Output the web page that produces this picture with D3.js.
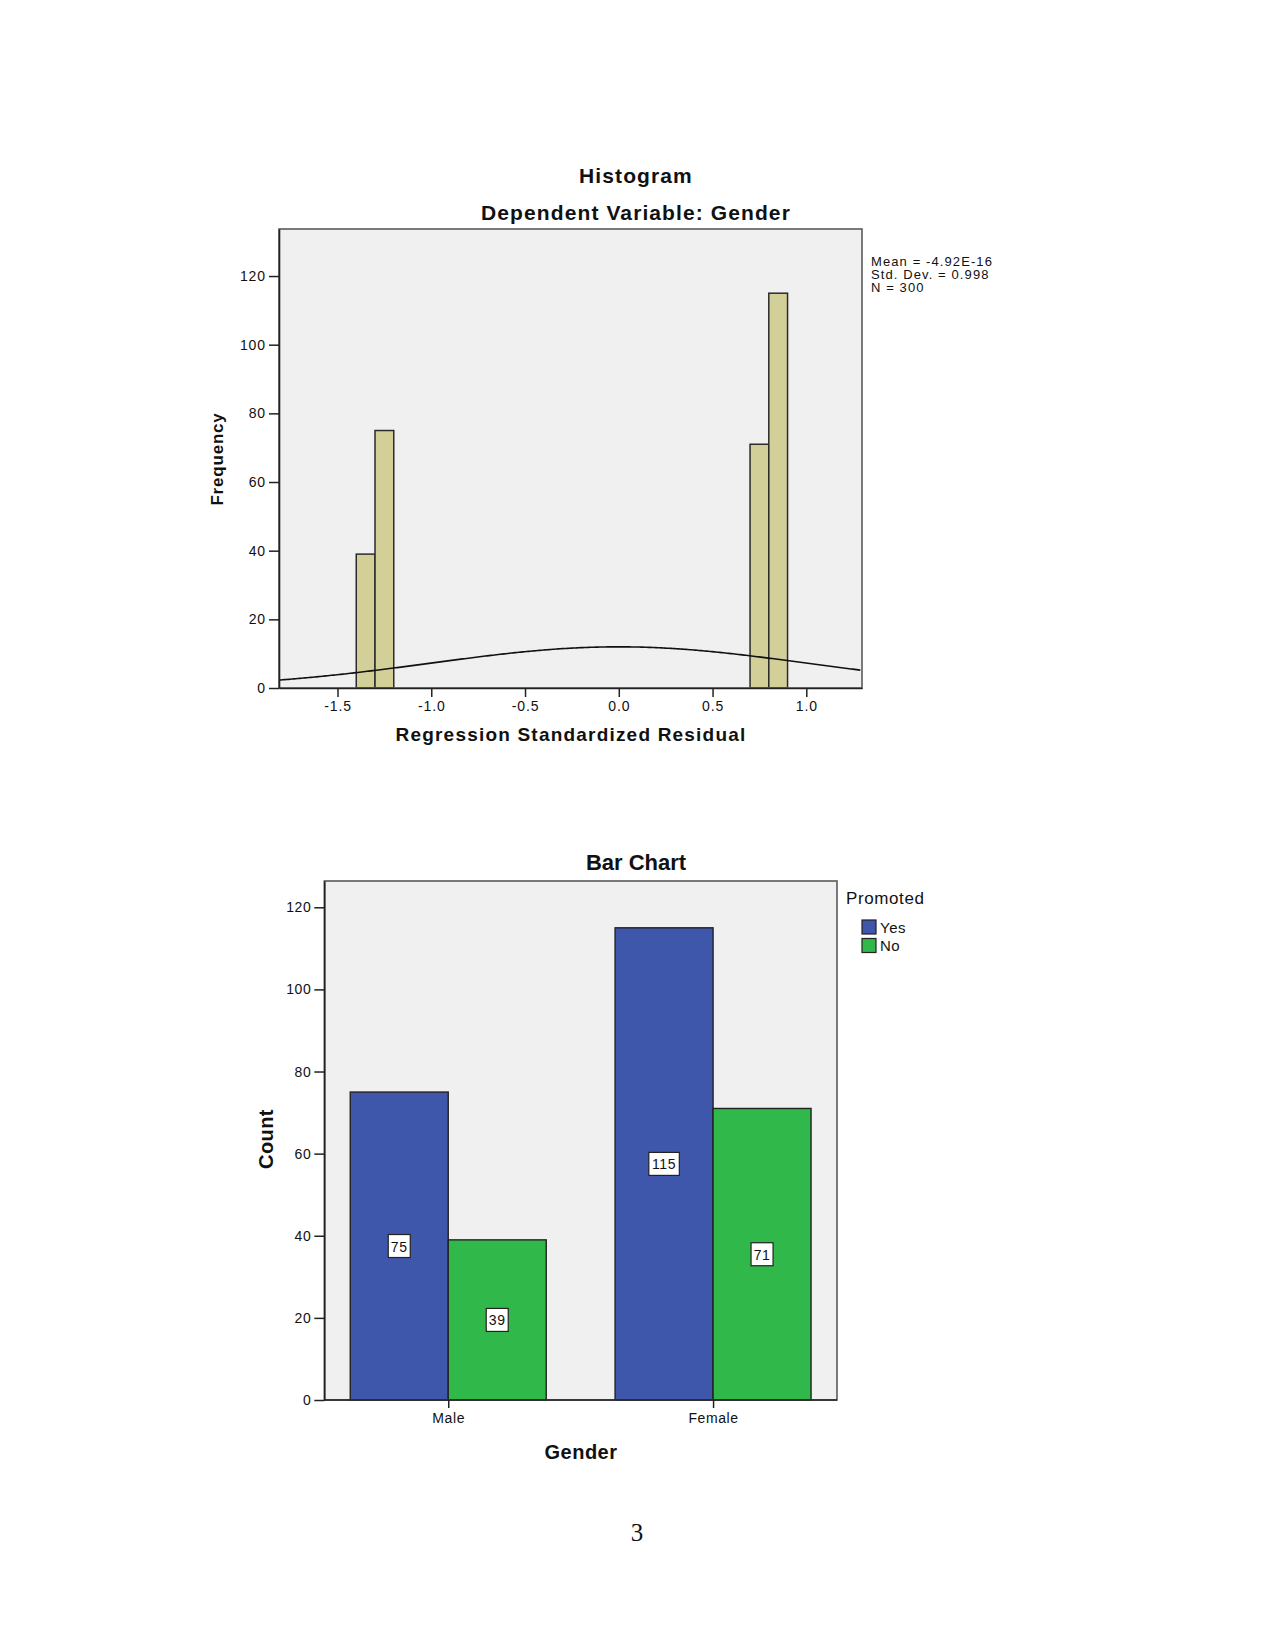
<!DOCTYPE html>
<html>
<head>
<meta charset="utf-8">
<script src="https://cdn.jsdelivr.net/npm/d3@7"></script>
<style>
  html, body { margin: 0; padding: 0; background: #fff; }
  svg { display: block; }
  text { font-family: "Liberation Sans", Arial, sans-serif; fill: #111; }
  text.pageno { font-family: "Liberation Serif", "Times New Roman", serif; }
</style>
</head>
<body>
<div id="page"></div>
<script>
// histogram of regression residuals
const histBinStarts = [-1.4, -1.3, 0.7, 0.8];
const histFrequencies = [39, 75, 71, 115];
const histBinWidth = 0.1;
const residualMean = -4.92e-16;
const residualSD = 0.998;
const residualN = 300;
const histXTicks = [-1.5, -1.0, -0.5, 0.0, 0.5, 1.0];
const histYTicks = [0, 20, 40, 60, 80, 100, 120];
const histStats = ['Mean = -4.92E-16', 'Std. Dev. = 0.998', 'N = 300'];

// bar chart of promotion by gender
const genders = ['Male', 'Female'];
const promotedGroups = ['Yes', 'No'];
const promotedYes = [75, 115];
const promotedNo = [39, 71];
const countTicks = [0, 20, 40, 60, 80, 100, 120];

const W = 1275, H = 1651;
const svg = d3.select('#page').append('svg')
    .attr('width', W).attr('height', H)
    .attr('viewBox', [0, 0, W, H]);
svg.append('rect').attr('width', W).attr('height', H).attr('fill', '#fff');

const plotBg = '#f0f0f0';
const frame = '#5a5a5a';

// ---------- Histogram ----------
const hx = d3.scaleLinear().domain([-1.812, 1.297]).range([279, 862]);
const hy = d3.scaleLinear().domain([0, 133.7]).range([688, 229]);

svg.append('text').attr('x', 636).attr('y', 183)
    .attr('text-anchor', 'middle').attr('font-size', 21).attr('font-weight', 'bold')
    .attr('letter-spacing', 1.1).text('Histogram');
svg.append('text').attr('x', 636).attr('y', 220)
    .attr('text-anchor', 'middle').attr('font-size', 21).attr('font-weight', 'bold')
    .attr('letter-spacing', 1.1).text('Dependent Variable: Gender');

svg.append('rect')
    .attr('x', hx.range()[0]).attr('y', hy.range()[1])
    .attr('width', hx.range()[1] - hx.range()[0])
    .attr('height', hy.range()[0] - hy.range()[1])
    .attr('fill', plotBg);

const histBins = histBinStarts.map((x0, i) => ({x0, x1: x0 + histBinWidth, n: histFrequencies[i]}));
svg.append('g').selectAll('rect')
    .data(histBins)
    .join('rect')
    .attr('x', d => hx(d.x0))
    .attr('y', d => hy(d.n))
    .attr('width', d => hx(d.x1) - hx(d.x0))
    .attr('height', d => hy(0) - hy(d.n))
    .attr('fill', '#d3cf98')
    .attr('stroke', '#2b2b2b')
    .attr('stroke-width', 1.5);

// normal curve from the reported mean / sd / N
const normal = x => residualN * histBinWidth *
    Math.exp(-0.5 * ((x - residualMean) / residualSD) ** 2) / (residualSD * Math.sqrt(2 * Math.PI));
const curveX = d3.range(hx.domain()[0], hx.domain()[1] + 0.001, 0.01);
svg.append('path')
    .datum(curveX)
    .attr('fill', 'none')
    .attr('stroke', '#111')
    .attr('stroke-width', 1.6)
    .attr('d', d3.line().x(d => hx(d)).y(d => hy(normal(d))));

svg.append('rect')
    .attr('x', hx.range()[0]).attr('y', hy.range()[1])
    .attr('width', hx.range()[1] - hx.range()[0])
    .attr('height', hy.range()[0] - hy.range()[1])
    .attr('fill', 'none').attr('stroke', frame).attr('stroke-width', 1.6);

const hxAxis = svg.append('g')
    .attr('transform', `translate(0,${hy(0)})`)
    .call(d3.axisBottom(hx).tickValues(histXTicks).tickFormat(d => d.toFixed(1))
        .tickSize(9).tickPadding(4).tickSizeOuter(0));
const hyAxis = svg.append('g')
    .attr('transform', `translate(${hx.range()[0]},0)`)
    .call(d3.axisLeft(hy).tickValues(histYTicks).tickSize(10).tickPadding(3).tickSizeOuter(0));
[hxAxis, hyAxis].forEach(g => {
    g.select('.domain').attr('stroke', '#222').attr('stroke-width', 1.6);
    g.selectAll('.tick line').attr('stroke', '#222').attr('stroke-width', 1.5);
    g.selectAll('.tick text').attr('font-size', 14).attr('letter-spacing', 0.9)
        .attr('font-family', '"Liberation Sans", Arial, sans-serif').attr('fill', '#222');
});

svg.append('text').attr('x', 571).attr('y', 741)
    .attr('text-anchor', 'middle').attr('font-size', 19).attr('font-weight', 'bold')
    .attr('letter-spacing', 1.2).text('Regression Standardized Residual');
svg.append('text')
    .attr('transform', 'translate(223,459) rotate(-90)')
    .attr('text-anchor', 'middle').attr('font-size', 17).attr('font-weight', 'bold')
    .attr('letter-spacing', 0.8).text('Frequency');

svg.append('g').selectAll('text')
    .data(histStats)
    .join('text')
    .attr('x', 871)
    .attr('y', (d, i) => 266 + i * 13)
    .attr('font-size', 13)
    .attr('letter-spacing', 1.1)
    .text(d => d);

// ---------- Bar chart ----------
const bx = d3.scaleBand().domain(genders).range([324.3, 837])
    .paddingInner(0.26).paddingOuter(0.098);
const bsub = d3.scaleBand().domain(promotedGroups).range([0, bx.bandwidth()]);
const by = d3.scaleLinear().domain([0, 126.4]).range([1400, 881]);
const barColor = d3.scaleOrdinal().domain(promotedGroups).range(['#3e57ab', '#31b84a']);

svg.append('text').attr('x', 636).attr('y', 870)
    .attr('text-anchor', 'middle').attr('font-size', 22).attr('font-weight', 'bold')
    .text('Bar Chart');

svg.append('rect')
    .attr('x', bx.range()[0]).attr('y', by.range()[1])
    .attr('width', bx.range()[1] - bx.range()[0])
    .attr('height', by.range()[0] - by.range()[1])
    .attr('fill', plotBg);

const barData = [];
genders.forEach((g, i) => {
    barData.push({gender: g, group: 'Yes', value: promotedYes[i]});
    barData.push({gender: g, group: 'No', value: promotedNo[i]});
});

const bars = svg.append('g').selectAll('g')
    .data(barData)
    .join('g')
    .attr('transform', d => `translate(${bx(d.gender) + bsub(d.group)},0)`);
bars.append('rect')
    .attr('y', d => by(d.value))
    .attr('width', bsub.bandwidth())
    .attr('height', d => by(0) - by(d.value))
    .attr('fill', d => barColor(d.group))
    .attr('stroke', '#222')
    .attr('stroke-width', 1.4);

const lab = bars.append('g')
    .attr('transform', d => `translate(${bsub.bandwidth() / 2},${by(d.value / 2)})`);
lab.append('rect')
    .attr('x', d => -(String(d.value).length * 8.5 + 5) / 2)
    .attr('y', -11.5)
    .attr('width', d => String(d.value).length * 8.5 + 5)
    .attr('height', 23)
    .attr('fill', '#fff')
    .attr('stroke', '#222')
    .attr('stroke-width', 1.2);
lab.append('text')
    .attr('text-anchor', 'middle')
    .attr('y', 5.5)
    .attr('font-size', 14)
    .attr('letter-spacing', 0.6)
    .attr('fill', '#222')
    .text(d => d.value);

svg.append('rect')
    .attr('x', bx.range()[0]).attr('y', by.range()[1])
    .attr('width', bx.range()[1] - bx.range()[0])
    .attr('height', by.range()[0] - by.range()[1])
    .attr('fill', 'none').attr('stroke', frame).attr('stroke-width', 1.6);

const bxAxis = svg.append('g')
    .attr('transform', `translate(0,${by(0)})`)
    .call(d3.axisBottom(d3.scalePoint().domain(genders)
            .range([bx('Male') + bx.bandwidth() / 2, bx('Female') + bx.bandwidth() / 2]))
        .tickSize(8).tickPadding(5).tickSizeOuter(0));
bxAxis.select('.domain').remove();
const byAxis = svg.append('g')
    .attr('transform', `translate(${bx.range()[0]},0)`)
    .call(d3.axisLeft(by).tickValues(countTicks).tickSize(10).tickPadding(3).tickSizeOuter(0));
svg.append('line')
    .attr('x1', bx.range()[0]).attr('x2', bx.range()[1])
    .attr('y1', by(0)).attr('y2', by(0))
    .attr('stroke', '#222').attr('stroke-width', 1.6);
[bxAxis, byAxis].forEach(g => {
    g.select('.domain').attr('stroke', '#222').attr('stroke-width', 1.6);
    g.selectAll('.tick line').attr('stroke', '#222').attr('stroke-width', 1.5);
    g.selectAll('.tick text').attr('font-size', 14).attr('letter-spacing', 0.6)
        .attr('font-family', '"Liberation Sans", Arial, sans-serif').attr('fill', '#222');
});

svg.append('text').attr('x', 581).attr('y', 1459)
    .attr('text-anchor', 'middle').attr('font-size', 20).attr('font-weight', 'bold')
    .attr('letter-spacing', 0.5).text('Gender');
svg.append('text')
    .attr('transform', 'translate(273,1139) rotate(-90)')
    .attr('text-anchor', 'middle').attr('font-size', 20).attr('font-weight', 'bold')
    .attr('letter-spacing', 0.4).text('Count');

// legend
const legend = svg.append('g').attr('transform', 'translate(846,0)');
legend.append('text').attr('x', 0).attr('y', 904)
    .attr('font-size', 17).attr('letter-spacing', 0.6).text('Promoted');
const li = legend.selectAll('g.item')
    .data(promotedGroups)
    .join('g')
    .attr('class', 'item')
    .attr('transform', (d, i) => `translate(16,${920 + i * 18.5})`);
li.append('rect')
    .attr('width', 14).attr('height', 14)
    .attr('fill', d => barColor(d))
    .attr('stroke', '#222').attr('stroke-width', 1.2);
li.append('text')
    .attr('x', 18).attr('y', 12.5)
    .attr('font-size', 15).attr('letter-spacing', 0.5)
    .text(d => d);

// page number
svg.append('text').attr('class', 'pageno')
    .attr('x', 637).attr('y', 1541)
    .attr('text-anchor', 'middle')
    .attr('font-size', 25).text('3');
</script>
</body>
</html>
